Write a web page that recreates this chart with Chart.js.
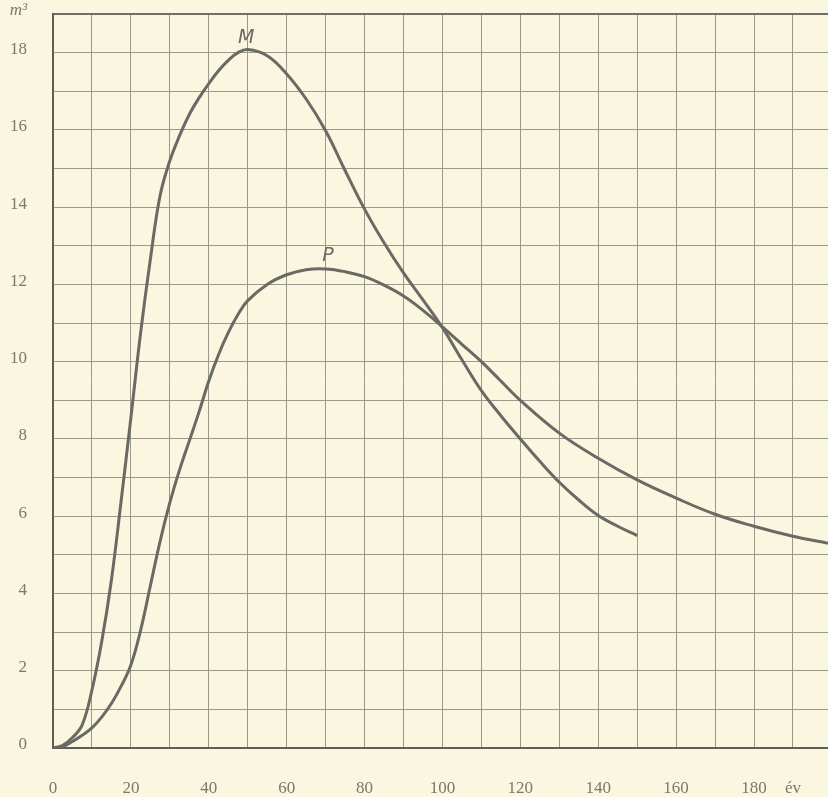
<!DOCTYPE html>
<html>
<head>
<meta charset="utf-8">
<script src="https://cdn.jsdelivr.net/npm/chart.js@4/dist/chart.umd.min.js"></script>
<style>
  html, body { margin: 0; padding: 0; background: #fbf6df; overflow: hidden; }
  #chart { display: block; }
</style>
</head>
<body>
<canvas id="chart" width="828" height="797"></canvas>
<script>
// curve M (years -> m3)
const mAges = [0, 2.5, 5, 7.5, 10, 12.5, 15, 17.5, 20, 22.5, 25, 27.5, 30, 32.5, 35, 37.5, 40, 42.5, 45, 47.5, 50, 55, 60, 65, 70, 75, 80, 85, 90, 95, 100, 105, 110, 115, 120, 125, 130, 135, 140, 145, 150];
const mVolumes = [0, 0.07, 0.27, 0.6, 1.5, 2.75, 4.35, 6.4, 8.55, 10.75, 12.65, 14.3, 15.2, 15.85, 16.4, 16.83, 17.2, 17.53, 17.8, 18.0, 18.08, 17.92, 17.45, 16.8, 15.98, 14.95, 13.95, 13.08, 12.3, 11.6, 10.88, 10.05, 9.25, 8.6, 8.0, 7.42, 6.88, 6.42, 6.02, 5.74, 5.5];

// curve P
const pAges = [0, 2.5, 5, 7.5, 10, 12.5, 15, 17.5, 20, 22.5, 25, 27.5, 30, 32.5, 35, 37.5, 40, 42.5, 45, 47.5, 50, 55, 60, 65, 70, 75, 80, 85, 90, 95, 100, 105, 110, 115, 120, 130, 140, 150, 160, 170, 180, 190, 199];
const pVolumes = [0, 0.04, 0.17, 0.33, 0.52, 0.8, 1.15, 1.6, 2.15, 3.05, 4.2, 5.35, 6.35, 7.2, 7.95, 8.7, 9.5, 10.18, 10.75, 11.22, 11.58, 12.0, 12.25, 12.38, 12.4, 12.33, 12.2, 11.98, 11.7, 11.33, 10.9, 10.45, 10.0, 9.5, 9.0, 8.15, 7.5, 6.94, 6.47, 6.05, 5.74, 5.48, 5.3];

const curveLabels = ['M', 'P'];

const ink = '#6a6a64';
const gridInk = '#9a9a8c';
const labelInk = '#7c786a';

function toPoints(xs, ys) {
  return xs.map((x, i) => ({ x, y: ys[i] }));
}

// writes M and P next to the curve tops
const curveNames = {
  id: 'curveNames',
  afterDatasetsDraw(chart) {
    const { ctx, scales } = chart;
    const spots = [[49.6, 18.37], [70.6, 12.73]];
    ctx.save();
    ctx.fillStyle = ink;
    ctx.font = 'italic 19px "DejaVu Sans", sans-serif';
    ctx.textAlign = 'center';
    ctx.textBaseline = 'middle';
    curveLabels.forEach((t, i) => {
      ctx.fillText(t, scales.x.getPixelForValue(spots[i][0]), scales.y.getPixelForValue(spots[i][1]));
    });
    ctx.restore();
  }
};

new Chart(document.getElementById('chart'), {
  type: 'line',
  data: {
    datasets: [
      { label: 'M', data: toPoints(mAges, mVolumes) },
      { label: 'P', data: toPoints(pAges, pVolumes) }
    ]
  },
  options: {
    responsive: false,
    animation: false,
    layout: { padding: { top: 14, right: 0, left: 0, bottom: 0 } },
    elements: {
      point: { radius: 0 },
      line: { borderColor: ink, borderWidth: 3, tension: 0.4, fill: false }
    },
    plugins: { legend: { display: false }, tooltip: { enabled: false } },
    scales: {
      x: {
        type: 'linear',
        min: 0,
        max: 199,
        afterFit: s => { s.height = 49; s.paddingLeft = 0; s.paddingRight = 0; },
        border: { color: '#5e5e58', width: 2 },
        grid: { color: gridInk, lineWidth: 1, drawTicks: false },
        ticks: {
          stepSize: 10,
          includeBounds: false,
          autoSkip: false,
          maxRotation: 0,
          padding: 30,
          color: labelInk,
          font: { family: '"Liberation Serif", serif', size: 17 },
          callback: v => v === 190 ? 'év' : (v % 20 === 0 ? String(v) : '')
        }
      },
      y: {
        min: 0,
        max: 19,
        afterFit: s => { s.width = 53; s.paddingTop = 0; s.paddingBottom = 0; },
        border: { color: '#5e5e58', width: 2 },
        grid: {
          color: c => c.tick && c.tick.value === 19 ? '#6e6e66' : gridInk,
          lineWidth: c => c.tick && c.tick.value === 19 ? 2 : 1,
          drawTicks: false
        },
        ticks: {
          stepSize: 1,
          autoSkip: false,
          padding: 26,
          labelOffset: -3,
          color: labelInk,
          font: c => ({ family: '"Liberation Serif", serif', size: 17, style: c.tick && c.tick.value === 19 ? 'italic' : 'normal' }),
          callback: v => v === 19 ? 'm³' : (v % 2 === 0 ? String(v) : '')
        }
      }
    }
  },
  plugins: [curveNames]
});
</script>
</body>
</html>
